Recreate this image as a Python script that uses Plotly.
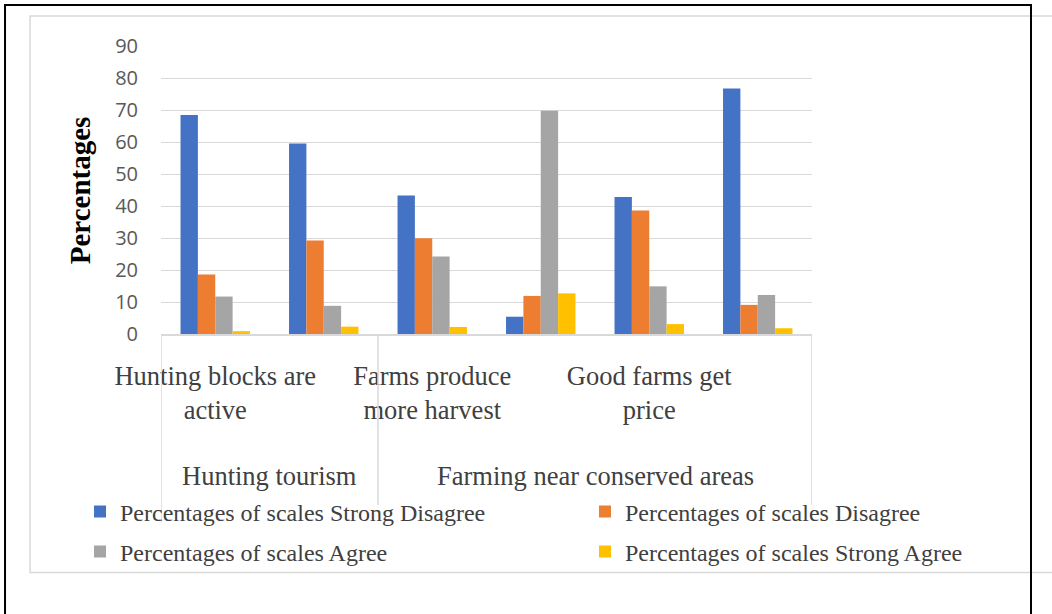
import plotly.graph_objects as go

# ---- data ----
item_labels = ["Hunting blocks are<br>active", "", "Farms produce<br>more harvest", "",
               "Good farms get<br>price", ""]
main_groups = ["Hunting tourism", "Farming near conserved areas"]
group_sizes = [2, 4]

series_names = ["Percentages of scales Strong Disagree", "Percentages of scales Disagree",
                "Percentages of scales Agree", "Percentages of scales Strong Agree"]
strong_disagree = [68.4, 59.5, 43.3, 5.4, 42.8, 76.7]
disagree = [18.6, 29.2, 29.9, 11.9, 38.6, 9.1]
agree = [11.7, 8.8, 24.2, 69.8, 14.9, 12.2]
strong_agree = [0.9, 2.3, 2.2, 12.7, 3.1, 1.8]
y_ticks = [0, 10, 20, 30, 40, 50, 60, 70, 80, 90]

colors = ["#4472C4", "#ED7D31", "#A5A5A5", "#FFC000"]
legend_ids = ["legend", "legend2", "legend3", "legend4"]

x = list(range(len(item_labels)))
series = [strong_disagree, disagree, agree, strong_agree]

fig = go.Figure()
for name, vals, col, lg in zip(series_names, series, colors, legend_ids):
    fig.add_trace(go.Bar(x=x, y=vals, name=name, marker=dict(color=col, line=dict(width=0)),
                         legend=lg))

SERIF = "Liberation Serif, Times New Roman, serif"
TXT = "#404040"
GRID = "#D9D9D9"

# group divider lines and level-2 labels
bounds = [-0.5]
for s in group_sizes:
    bounds.append(bounds[-1] + s)
shapes = []
for i, b in enumerate(bounds):
    y1 = -0.656 if i == 0 else -0.594
    shapes.append(dict(type="line", xref="x", yref="paper", x0=b, x1=b, y0=0, y1=y1,
                       line=dict(color=GRID, width=1.5)))
annotations = []
for i, g in enumerate(main_groups):
    annotations.append(dict(text=g, xref="x", yref="paper", x=(bounds[i] + bounds[i + 1]) / 2,
                            y=-0.493, showarrow=False, xanchor="center", yanchor="middle",
                            font=dict(family=SERIF, size=26.5, color=TXT)))
annotations.append(dict(text="<b>Percentages</b>", xref="paper", yref="paper", x=-0.124, y=0.5,
                        textangle=-90, showarrow=False, xanchor="center", yanchor="middle",
                        font=dict(family=SERIF, size=29, color="black")))

# chart border (gray) and outer frame (black)
shapes.append(dict(type="rect", xref="paper", yref="paper", x0=-0.2012, x1=1.40, y0=-0.828, y1=1.1042,
                   line=dict(color=GRID, width=1.5), layer="below"))
shapes.append(dict(type="rect", xref="paper", yref="paper", x0=-0.2396, x1=1.3364, y0=-1.2, y1=1.1424,
                   line=dict(color="black", width=2)))

legend_pos = {"legend": (-0.1244, -0.618), "legend2": (0.6513, -0.618),
              "legend3": (-0.1244, -0.757), "legend4": (0.6513, -0.757)}
legends = {}
for lg, (lx, ly) in legend_pos.items():
    legends[lg] = dict(orientation="h", x=lx, y=ly, xanchor="left", yanchor="middle",
                       bgcolor="rgba(0,0,0,0)", font=dict(family=SERIF, size=24, color=TXT))

fig.update_layout(
    width=1052, height=614,
    margin=dict(l=161, r=240, t=46, b=280),
    paper_bgcolor="white", plot_bgcolor="white",
    barmode="group", bargap=0.36, bargroupgap=0,
    shapes=shapes, annotations=annotations,
    showlegend=True,
    **legends,
)
fig.update_xaxes(range=[-0.5, len(item_labels) - 0.5], tickmode="array", tickvals=x,
                 ticktext=item_labels, showgrid=False, showline=True, linecolor=GRID, linewidth=1.5,
                 ticks="", zeroline=False, automargin=False, ticklabelstandoff=17,
                 tickfont=dict(family=SERIF, size=26.5, color=TXT))
fig.update_yaxes(range=[0, 90], tickmode="array", tickvals=y_ticks, showgrid=True, gridcolor=GRID,
                 gridwidth=1.2, showline=False, zeroline=False, ticks="", automargin=False,
                 ticklabelstandoff=22, tickfont=dict(family="Open Sans, sans-serif", size=20, color="#595959"))

fig.write_html("out.html")
